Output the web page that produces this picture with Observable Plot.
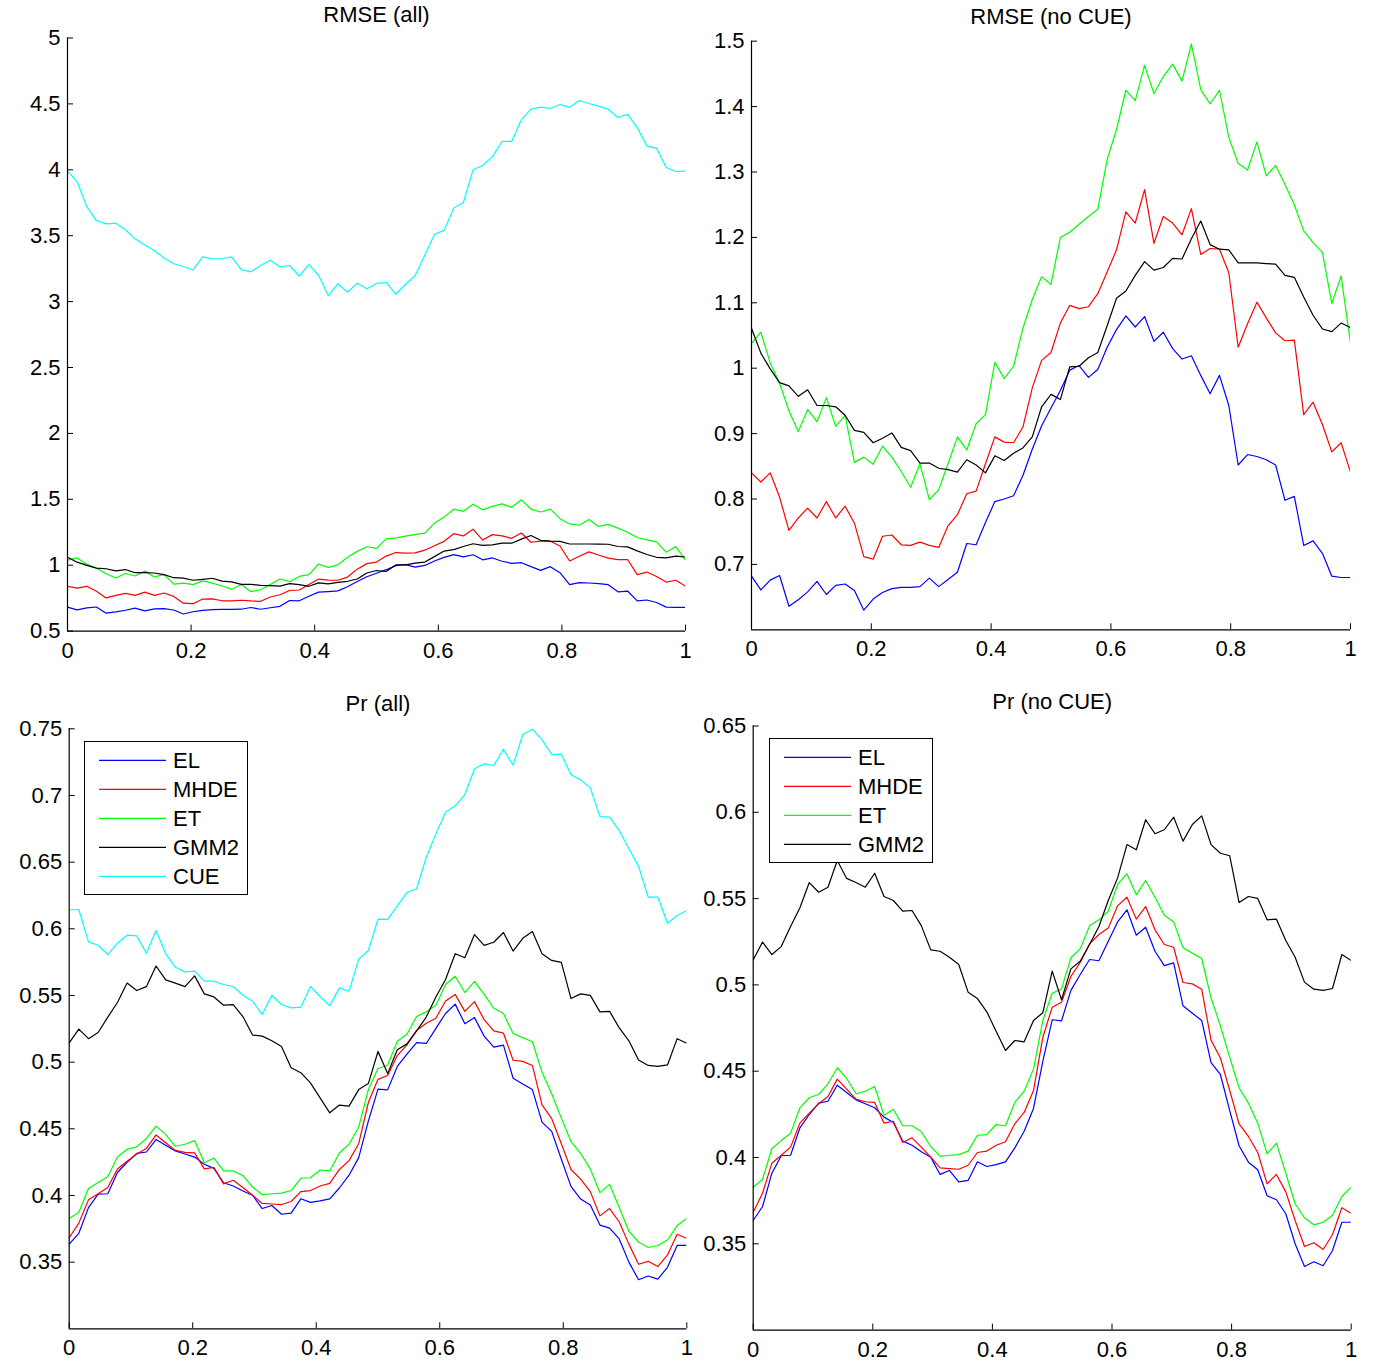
<!DOCTYPE html>
<html>
<head>
<meta charset="utf-8">
<script src="https://cdn.jsdelivr.net/npm/d3@7"></script>
<script src="https://cdn.jsdelivr.net/npm/@observablehq/plot@0.6"></script>
<style>
  body { margin: 0; background: #fff; font-family: "Liberation Sans", Arial, sans-serif; }
  #wrap { position: relative; width: 1379px; height: 1366px; overflow: hidden; background: #fff; }
  .panel { position: absolute; }
  .legend { position: absolute; background: #fff; border: 1px solid #000; box-sizing: border-box; font-size: 22px; color: #000; }
  .legend svg.swatch { position: absolute; left: 14px; width: 67px; height: 4px; overflow: visible; }
  .legend .lab { position: absolute; left: 88px; line-height: 22px; transform: translateY(-50%); white-space: nowrap; }
</style>
</head>
<body>
<div id="wrap"></div>
<script>
// ---------------- data ----------------
const xGrid = d3.range(65).map(i => i / 64);   // 65 sample positions on [0, 1]

const seriesNames = ["EL", "MHDE", "ET", "GMM2", "CUE"];
const seriesColors = ["#0000ff", "#ff0000", "#00ff00", "#000000", "#00ffff"];

const xTicks = [0, 0.2, 0.4, 0.6, 0.8, 1];
const yTicksRmseAll = [0.5, 1, 1.5, 2, 2.5, 3, 3.5, 4, 4.5, 5];
const yTicksRmseNoCue = [0.7, 0.8, 0.9, 1, 1.1, 1.2, 1.3, 1.4, 1.5];
const yTicksPrAll = [0.35, 0.4, 0.45, 0.5, 0.55, 0.6, 0.65, 0.7, 0.75];
const yTicksPrNoCue = [0.35, 0.4, 0.45, 0.5, 0.55, 0.6, 0.65];

const panelTitles = ["RMSE (all)", "RMSE (no CUE)", "Pr (all)", "Pr (no CUE)"];

// RMSE
const rmseEL = [0.682,0.661,0.676,0.683,0.636,0.646,0.658,0.674,0.654,0.668,
  0.670,0.660,0.630,0.647,0.657,0.663,0.665,0.665,0.666,0.679,
  0.666,0.677,0.688,0.732,0.730,0.764,0.796,0.800,0.805,0.836,
  0.876,0.912,0.939,0.966,0.997,1.004,0.986,0.998,1.032,1.059,
  1.080,1.063,1.079,1.041,1.055,1.030,1.014,1.019,0.989,0.961,
  0.989,0.943,0.852,0.868,0.865,0.860,0.852,0.798,0.804,0.729,
  0.736,0.717,0.682,0.680,0.680];
const rmseMHDE = [0.840,0.826,0.840,0.803,0.752,0.771,0.786,0.771,0.796,0.771,
  0.789,0.763,0.712,0.708,0.743,0.745,0.730,0.729,0.734,0.729,
  0.726,0.759,0.776,0.808,0.812,0.854,0.895,0.887,0.886,0.910,
  0.970,1.012,1.024,1.069,1.096,1.091,1.094,1.114,1.147,1.181,
  1.239,1.222,1.273,1.191,1.232,1.222,1.204,1.244,1.174,1.183,
  1.182,1.146,1.032,1.068,1.101,1.077,1.054,1.042,1.043,0.929,
  0.948,0.914,0.872,0.886,0.841];
const rmseET = [1.038,1.055,1.008,0.977,0.935,0.903,0.937,0.918,0.955,0.911,
  0.928,0.856,0.864,0.853,0.881,0.864,0.842,0.818,0.854,0.799,
  0.814,0.854,0.895,0.875,0.915,0.929,1.009,0.984,1.003,1.061,
  1.105,1.140,1.128,1.200,1.208,1.220,1.232,1.243,1.319,1.365,
  1.425,1.409,1.463,1.420,1.446,1.465,1.439,1.496,1.426,1.404,
  1.425,1.353,1.313,1.303,1.346,1.294,1.310,1.281,1.250,1.210,
  1.192,1.177,1.099,1.141,1.038];
const rmseGMM2 = [1.061,1.023,0.999,0.978,0.973,0.957,0.967,0.943,0.943,0.941,
  0.928,0.905,0.902,0.886,0.893,0.901,0.879,0.874,0.855,0.855,
  0.847,0.845,0.841,0.860,0.852,0.840,0.866,0.859,0.870,0.878,
  0.895,0.941,0.960,0.952,1.002,1.003,1.016,1.024,1.065,1.107,
  1.118,1.142,1.163,1.150,1.154,1.168,1.167,1.198,1.225,1.189,
  1.182,1.181,1.161,1.161,1.161,1.160,1.159,1.142,1.139,1.109,
  1.081,1.060,1.056,1.069,1.062];
const rmseCUE = [3.990,3.910,3.720,3.615,3.590,3.595,3.545,3.476,3.430,3.388,
  3.330,3.287,3.266,3.240,3.340,3.325,3.325,3.340,3.243,3.226,
  3.274,3.314,3.264,3.274,3.193,3.282,3.200,3.046,3.135,3.071,
  3.140,3.097,3.138,3.145,3.056,3.130,3.198,3.352,3.510,3.540,
  3.710,3.752,4.000,4.033,4.100,4.215,4.215,4.380,4.460,4.475,
  4.465,4.495,4.475,4.526,4.503,4.483,4.460,4.397,4.420,4.320,
  4.180,4.164,4.017,3.987,3.990];

// Pr
const prEL = [0.3635,0.3716,0.3909,0.4010,0.4013,0.4172,0.4249,0.4315,0.4326,0.4419,
  0.4377,0.4334,0.4311,0.4288,0.4234,0.4203,0.4095,0.4071,0.4033,0.4002,
  0.3902,0.3925,0.3859,0.3867,0.3975,0.3948,0.3959,0.3975,0.4056,0.4152,
  0.4284,0.4558,0.4798,0.4792,0.4968,0.5060,0.5147,0.5140,0.5253,0.5365,
  0.5435,0.5288,0.5334,0.5195,0.5112,0.5128,0.4879,0.4836,0.4794,0.4550,
  0.4481,0.4272,0.4068,0.3973,0.3929,0.3778,0.3755,0.3674,0.3500,0.3368,
  0.3396,0.3373,0.3461,0.3625,0.3625];
const prMHDE = [0.3683,0.3793,0.3967,0.4013,0.4060,0.4199,0.4257,0.4311,0.4353,0.4454,
  0.4396,0.4338,0.4323,0.4319,0.4199,0.4210,0.4087,0.4114,0.4060,0.4002,
  0.3940,0.3936,0.3932,0.3955,0.4029,0.4037,0.4071,0.4091,0.4195,0.4261,
  0.4388,0.4697,0.4871,0.4900,0.5049,0.5130,0.5238,0.5292,0.5329,0.5458,
  0.5508,0.5381,0.5454,0.5319,0.5234,0.5218,0.5014,0.5006,0.4975,0.4680,
  0.4577,0.4388,0.4195,0.4122,0.4029,0.3847,0.3902,0.3801,0.3635,0.3484,
  0.3506,0.3467,0.3554,0.3709,0.3677];
const prET = [0.3828,0.3874,0.4052,0.4098,0.4141,0.4288,0.4346,0.4365,0.4427,0.4520,
  0.4458,0.4369,0.4384,0.4411,0.4245,0.4280,0.4184,0.4184,0.4149,0.4064,
  0.4006,0.4013,0.4017,0.4037,0.4129,0.4133,0.4191,0.4184,0.4319,0.4384,
  0.4512,0.4794,0.4952,0.4977,0.5157,0.5209,0.5342,0.5377,0.5427,0.5582,
  0.5644,0.5522,0.5605,0.5508,0.5404,0.5365,0.5215,0.5184,0.5153,0.4925,
  0.4763,0.4580,0.4404,0.4315,0.4199,0.4021,0.4083,0.3909,0.3732,0.3651,
  0.3610,0.3625,0.3666,0.3774,0.3828];
const prGMM2 = [0.5145,0.5248,0.5176,0.5222,0.5338,0.5447,0.5593,0.5537,0.5566,0.5721,
  0.5617,0.5593,0.5566,0.5647,0.5512,0.5489,0.5427,0.5431,0.5342,0.5203,
  0.5195,0.5160,0.5118,0.4958,0.4921,0.4844,0.4732,0.4620,0.4678,0.4670,
  0.4794,0.4839,0.5080,0.4914,0.5093,0.5137,0.5234,0.5338,0.5489,0.5620,
  0.5813,0.5783,0.5957,0.5876,0.5899,0.5972,0.5833,0.5929,0.5979,0.5813,
  0.5763,0.5748,0.5477,0.5512,0.5501,0.5377,0.5381,0.5257,0.5160,0.5016,
  0.4975,0.4968,0.4979,0.5176,0.5141];
const prCUE = [0.6143,0.6143,0.5902,0.5877,0.5807,0.5892,0.5952,0.5947,0.5817,0.5987,
  0.5812,0.5712,0.5677,0.5682,0.5607,0.5607,0.5582,0.5567,0.5502,0.5457,
  0.5357,0.5502,0.5432,0.5407,0.5412,0.5567,0.5492,0.5422,0.5557,0.5532,
  0.5772,0.5837,0.6072,0.6070,0.6172,0.6272,0.6300,0.6537,0.6712,0.6875,
  0.6922,0.7007,0.7200,0.7237,0.7225,0.7347,0.7227,0.7457,0.7497,0.7417,
  0.7307,0.7310,0.7155,0.7117,0.7057,0.6842,0.6837,0.6737,0.6600,0.6470,
  0.6237,0.6237,0.6042,0.6100,0.6137];

const rmseSeries = [rmseEL, rmseMHDE, rmseET, rmseGMM2, rmseCUE];
const prSeries = [prEL, prMHDE, prET, prGMM2, prCUE];

// ---------------- drawing ----------------
const FONT = '"Liberation Sans", Arial, Helvetica, sans-serif';
const FS = 22;
const SVGNS = "http://www.w3.org/2000/svg";
const wrap = document.getElementById("wrap");

function toRows(vals) { return vals.map((v, i) => ({xv: xGrid[i], yv: v})); }

function panel(cfg) {
  const innerW = cfg.width - cfg.ml - cfg.mr;
  const innerH = cfg.height - cfg.mt - cfg.mb;
  const marks = [];
  cfg.series.forEach((vals, k) => {
    marks.push(Plot.line(toRows(vals), {x: "xv", y: "yv", stroke: seriesColors[k], strokeWidth: 1.2, clip: true}));
  });
  marks.push(
    Plot.ruleX([0], {stroke: "#000", strokeWidth: 1.2}),
    Plot.ruleY([cfg.yDomain[0]], {stroke: "#000", strokeWidth: 1.2}),
    Plot.tickY(cfg.yTicks, {y: d => d, insetRight: innerW - 6, stroke: "#000"}),
    Plot.tickX(xTicks, {x: d => d, insetTop: innerH - 6, stroke: "#000"}),
    Plot.axisX({ticks: xTicks, tickSize: 0, tickPadding: 11, tickFormat: d => String(d), fontSize: FS, label: null}),
    Plot.axisY({ticks: cfg.yTicks, tickSize: 0, tickPadding: 7, tickFormat: d => String(d), fontSize: FS, label: null}),
    Plot.text([cfg.title], {text: d => d, frameAnchor: "top", dy: cfg.titleDy, fontSize: FS, lineAnchor: "middle", fill: "#000"})
  );
  const svg = Plot.plot({
    width: cfg.width, height: cfg.height,
    marginLeft: cfg.ml, marginRight: cfg.mr, marginTop: cfg.mt, marginBottom: cfg.mb,
    x: {domain: [0, 1], label: null},
    y: {domain: cfg.yDomain, label: null},
    style: {fontFamily: FONT, fontSize: FS + "px", background: "transparent", color: "#000", overflow: "visible"},
    marks
  });
  const holder = document.createElement("div");
  holder.className = "panel";
  holder.style.left = cfg.left + "px";
  holder.style.top = cfg.top + "px";
  holder.appendChild(svg);
  wrap.appendChild(holder);
}

function legend(left, top, width, height, n) {
  const box = document.createElement("div");
  box.className = "legend";
  Object.assign(box.style, {left: left + "px", top: top + "px", width: width + "px", height: height + "px", fontFamily: FONT});
  for (let k = 0; k < n; k++) {
    const cy = 18 + 29 * k;
    const sw = document.createElementNS(SVGNS, "svg");
    sw.setAttribute("class", "swatch");
    sw.setAttribute("width", 67);
    sw.setAttribute("height", 4);
    sw.style.top = (cy - 2) + "px";
    const ln = document.createElementNS(SVGNS, "line");
    ln.setAttribute("x1", 0); ln.setAttribute("x2", 67);
    ln.setAttribute("y1", 2.4); ln.setAttribute("y2", 2.4);
    ln.setAttribute("stroke", seriesColors[k]);
    ln.setAttribute("stroke-width", 1.2);
    sw.appendChild(ln);
    const lab = document.createElement("div");
    lab.className = "lab";
    lab.style.top = (cy + 1) + "px";
    lab.textContent = seriesNames[k];
    box.appendChild(sw);
    box.appendChild(lab);
  }
  wrap.appendChild(box);
}

panel({title: panelTitles[0], series: rmseSeries, yDomain: [0.5, 5], yTicks: yTicksRmseAll,
  left: 0, top: 0, width: 700, height: 670, ml: 67, mr: 15, mt: 37.5, mb: 39.4, titleDy: -23.5});
panel({title: panelTitles[1], series: rmseSeries.slice(0, 4), yDomain: [0.6, 1.5], yTicks: yTicksRmseNoCue,
  left: 690, top: 0, width: 689, height: 670, ml: 61, mr: 29, mt: 40.7, mb: 40.7, titleDy: -24.7});
panel({title: panelTitles[2], series: prSeries, yDomain: [0.3, 0.75], yTicks: yTicksPrAll,
  left: 0, top: 680, width: 700, height: 686, ml: 68.7, mr: 13.7, mt: 48.3, mb: 37.7, titleDy: -25});
panel({title: panelTitles[3], series: prSeries.slice(0, 4), yDomain: [0.3, 0.65], yTicks: yTicksPrNoCue,
  left: 690, top: 680, width: 689, height: 686, ml: 62.7, mr: 28.3, mt: 45.5, mb: 36.4, titleDy: -24.5});

legend(84, 741, 164, 154, 5);
legend(769, 738, 164, 125, 4);
</script>
</body>
</html>
